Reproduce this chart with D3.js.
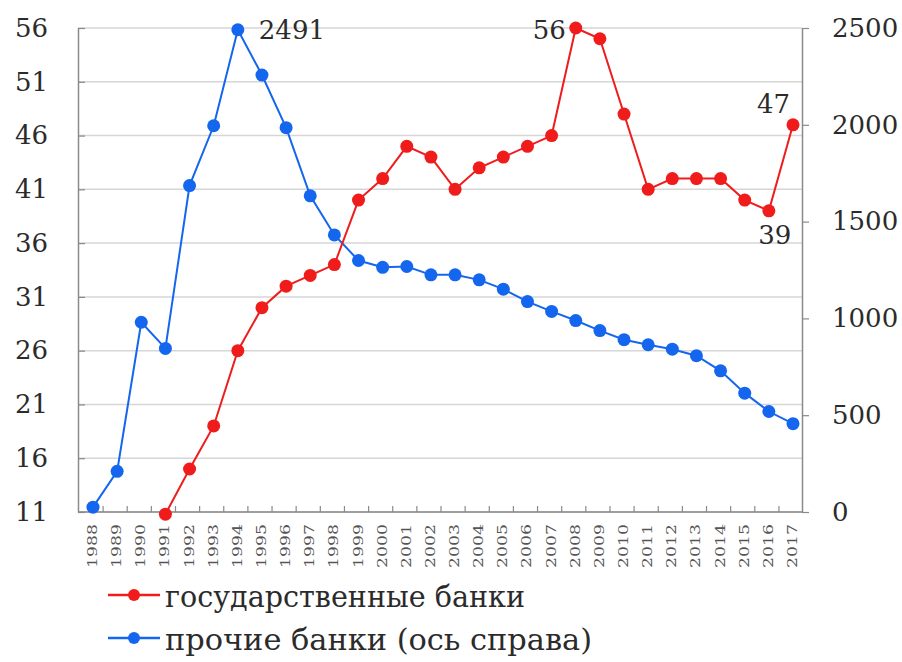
<!DOCTYPE html>
<html>
<head>
<meta charset="utf-8">
<script src="https://cdn.jsdelivr.net/npm/d3@7"></script>
<style>
  body { margin: 0; background: #fff; }
  svg { display: block; }
  text { font-family: "DejaVu Serif", serif; fill: #2b2b2b; }
</style>
</head>
<body>
<svg id="chart" width="902" height="662"></svg>
<script>
// data
const years = d3.range(1988, 2018);
const stateYears = d3.range(1991, 2018);
const stateBanks = [10.8, 15, 19, 26, 30, 32, 33, 34, 40, 42, 45, 44, 41, 43, 44, 45, 46,
                    56, 55, 48, 41, 42, 42, 42, 40, 39, 47];
const otherBanks = [25, 210, 980, 845, 1686, 1995, 2491, 2257, 1985, 1633, 1431, 1299,
                    1264, 1268, 1225, 1225, 1199, 1151, 1087, 1036, 989, 937, 890, 864,
                    841, 807, 729, 614, 519, 456];
const leftTicks = [11, 16, 21, 26, 31, 36, 41, 46, 51, 56];
const rightTicks = [0, 500, 1000, 1500, 2000, 2500];

const red = '#f01c1c';
const blue = '#1466ee';

const plotLeft = 78;
const plotRight = 802;
const plotTop = 28;
const plotBottom = 512;

const svg = d3.select('#chart');

const x = d3.scalePoint()
            .domain(years)
            .range([93, 793]);

const yLeft = d3.scaleLinear()
                .domain([11, 56])
                .range([plotBottom, plotTop]);

const yRight = d3.scaleLinear()
                 .domain([0, 2500])
                 .range([plotBottom, plotTop]);

// grid lines
svg.append('g')
   .selectAll('line')
   .data(leftTicks)
   .enter()
   .append('line')
   .attr('x1', plotLeft)
   .attr('x2', plotRight)
   .attr('y1', d => yLeft(d))
   .attr('y2', d => yLeft(d))
   .attr('stroke', '#d6d6d6')
   .attr('stroke-width', 1.5);

// left axis
const leftAxis = svg.append('g')
                    .attr('transform', 'translate(' + plotLeft + ',0)')
                    .call(d3.axisRight(yLeft).tickValues(leftTicks).tickSize(7).tickSizeOuter(0));
leftAxis.selectAll('text')
        .attr('x', -30)
        .attr('text-anchor', 'end')
        .style('font-size', '26px')
        .attr('font-family', null);

// right axis
const rightAxis = svg.append('g')
                     .attr('transform', 'translate(' + plotRight + ',0)')
                     .call(d3.axisRight(yRight).tickValues(rightTicks).tickFormat(d3.format('d'))
                             .tickSize(7).tickSizeOuter(0));
rightAxis.selectAll('text')
         .attr('x', 30)
         .style('font-size', '26px')
         .attr('font-family', null);

// bottom axis
const bottomAxis = svg.append('g')
                      .attr('transform', 'translate(0,' + plotBottom + ')');
bottomAxis.append('line')
          .attr('x1', plotLeft)
          .attr('x2', plotRight)
          .attr('stroke', '#8a8a8a')
          .attr('stroke-width', 1.5);
bottomAxis.selectAll('.tick-mark')
          .data(years.slice(1))
          .enter()
          .append('line')
          .attr('class', 'tick-mark')
          .attr('x1', d => x(d) - x.step() / 2 - 2)
          .attr('x2', d => x(d) - x.step() / 2 - 2)
          .attr('y1', 0)
          .attr('y2', -6)
          .attr('stroke', '#8a8a8a')
          .attr('stroke-width', 1.2);
bottomAxis.selectAll('.year')
          .data(years)
          .enter()
          .append('text')
          .attr('class', 'year')
          .attr('transform', d => 'translate(' + (x(d) + 4) + ',' + 56 + ') rotate(-90)')
          .attr('textLength', 44)
          .attr('lengthAdjust', 'spacingAndGlyphs')
          .style('font-size', '13px')
          .style('fill', '#555')
          .text(d => d);

svg.selectAll('.domain')
   .attr('stroke', '#8a8a8a')
   .attr('stroke-width', 1.5);
svg.selectAll('.tick line')
   .attr('stroke', '#8a8a8a')
   .attr('stroke-width', 1.2);
rightAxis.selectAll('.tick line').attr('x2', 7);

// series
function drawSeries(xs, values, scale, color) {
  const line = d3.line()
                 .x((d, i) => x(xs[i]))
                 .y(d => scale(d));

  svg.append('path')
     .datum(values)
     .attr('d', line)
     .attr('fill', 'none')
     .attr('stroke', color)
     .attr('stroke-width', 2);

  svg.append('g')
     .selectAll('circle')
     .data(values)
     .enter()
     .append('circle')
     .attr('cx', (d, i) => x(xs[i]))
     .attr('cy', d => scale(d))
     .attr('r', 6.5)
     .attr('fill', color);
}

drawSeries(years, otherBanks, yRight, blue);
drawSeries(stateYears, stateBanks, yLeft, red);

// value labels
const labelStyle = sel => sel.style('font-size', '26px');
svg.append('text').call(labelStyle)
   .attr('x', x(1994) + 21).attr('y', yRight(2491) + 9)
   .text('2491');
svg.append('text').call(labelStyle)
   .attr('x', x(2008) - 10).attr('y', yLeft(56) + 11)
   .attr('text-anchor', 'end')
   .text('56');
svg.append('text').call(labelStyle)
   .attr('x', x(2017) - 3).attr('y', yLeft(47) - 12)
   .attr('text-anchor', 'end')
   .text('47');
svg.append('text').call(labelStyle)
   .attr('x', x(2016) + 6).attr('y', yLeft(39) + 33)
   .attr('text-anchor', 'middle')
   .text('39');

// legend
const legendItems = [
  { label: 'государственные банки', color: red, y: 595, width: 360 },
  { label: 'прочие банки (ось справа)', color: blue, y: 638, width: 427 }
];
const legend = svg.append('g');
const item = legend.selectAll('g')
                   .data(legendItems)
                   .enter()
                   .append('g')
                   .attr('transform', d => 'translate(0,' + d.y + ')');
item.append('line')
    .attr('x1', 108).attr('x2', 160)
    .attr('stroke', d => d.color)
    .attr('stroke-width', 2.5);
item.append('circle')
    .attr('cx', 134)
    .attr('r', 6)
    .attr('fill', d => d.color);
item.append('text')
    .attr('x', 165)
    .attr('y', 12)
    .attr('textLength', d => d.width)
    .attr('lengthAdjust', 'spacingAndGlyphs')
    .style('font-size', '30px')
    .text(d => d.label);
</script>
</body>
</html>
